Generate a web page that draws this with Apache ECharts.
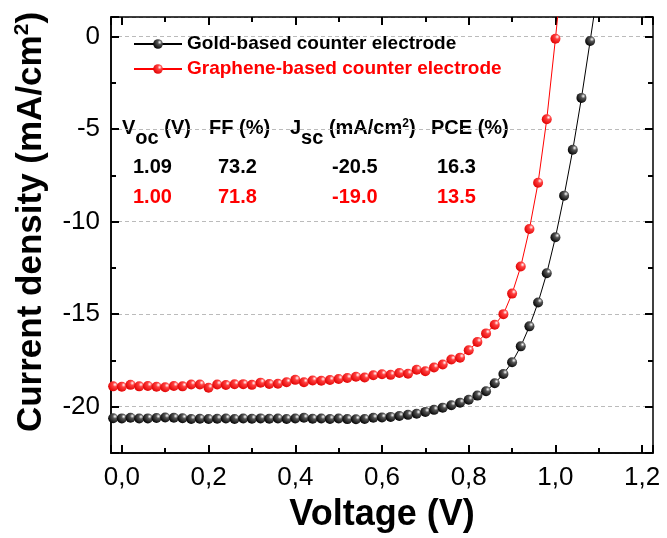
<!DOCTYPE html>
<html>
<head>
<meta charset="utf-8">
<script src="https://cdn.jsdelivr.net/npm/echarts@6/dist/echarts.min.js"></script>
<style>
html, body { margin: 0; padding: 0; background: #fff; }
#main { width: 667px; height: 538px; }
</style>
</head>
<body>
<div id="main"></div>
<script>
// J-V data, voltage in V, current density in mA/cm2
var goldV = [-0.02, 0.00, 0.02, 0.04, 0.06, 0.08, 0.10, 0.12, 0.14, 0.16, 0.18, 0.20, 0.22, 0.24, 0.26, 0.28, 0.30, 0.32, 0.34, 0.36,
  0.38, 0.40, 0.42, 0.44, 0.46, 0.48, 0.50, 0.52, 0.54, 0.56, 0.58, 0.60, 0.62, 0.64, 0.66, 0.68, 0.70, 0.72, 0.74, 0.76,
  0.78, 0.80, 0.82, 0.84, 0.86, 0.88, 0.90, 0.92, 0.94, 0.96, 0.98, 1.00, 1.02, 1.04, 1.06, 1.08, 1.10];
var goldJ = [-20.62, -20.63, -20.60, -20.64, -20.63, -20.61, -20.58, -20.60, -20.62, -20.66, -20.65, -20.66, -20.65, -20.64, -20.66, -20.64, -20.65, -20.63, -20.65, -20.64,
  -20.66, -20.64, -20.60, -20.65, -20.64, -20.66, -20.64, -20.67, -20.68, -20.66, -20.60, -20.58, -20.55, -20.50, -20.44, -20.38, -20.28, -20.17, -20.05, -19.92,
  -19.78, -19.62, -19.40, -19.16, -18.73, -18.23, -17.60, -16.74, -15.66, -14.37, -12.79, -10.85, -8.60, -6.12, -3.32, -0.25, 2.90];

var grapheneV = [-0.02, 0.00, 0.02, 0.04, 0.06, 0.08, 0.10, 0.12, 0.14, 0.16, 0.18, 0.20, 0.22, 0.24, 0.26, 0.28, 0.30, 0.32, 0.34, 0.36,
  0.38, 0.40, 0.42, 0.44, 0.46, 0.48, 0.50, 0.52, 0.54, 0.56, 0.58, 0.60, 0.62, 0.64, 0.66, 0.68, 0.70, 0.72, 0.74, 0.76,
  0.78, 0.80, 0.82, 0.84, 0.86, 0.88, 0.90, 0.92, 0.94, 0.96, 0.98, 1.00, 1.02];
var grapheneJ = [-18.90, -18.92, -18.82, -18.90, -18.88, -18.92, -18.95, -18.88, -18.90, -18.80, -18.80, -18.98, -18.80, -18.83, -18.79, -18.78, -18.82, -18.70, -18.77, -18.76,
  -18.68, -18.55, -18.68, -18.58, -18.60, -18.56, -18.50, -18.45, -18.38, -18.42, -18.30, -18.25, -18.28, -18.18, -18.22, -18.00, -18.08, -17.88, -17.72, -17.45,
  -17.35, -16.95, -16.50, -16.04, -15.57, -15.00, -13.89, -12.43, -10.40, -7.90, -4.47, -0.12, 4.50];

var seriesNames = ['Gold-based counter electrode', 'Graphene-based counter electrode'];
var goldParams = ['1.09', '73.2', '-20.5', '16.3'];
var grapheneParams = ['1.00', '71.8', '-19.0', '13.5'];

var FONT = '"Liberation Sans", Arial, sans-serif';
var RED = '#ff0000';

function pairs(xs, ys) {
  return xs.map(function (x, i) { return [x, ys[i]]; });
}

function ball(base, mid) {
  return {
    type: 'radial', x: 0.68, y: 0.32, r: 0.75,
    colorStops: [
      { offset: 0, color: '#ffffff' },
      { offset: 0.3, color: mid },
      { offset: 1, color: base }
    ]
  };
}

function axisLine() {
  return { show: true, onZero: false, lineStyle: { color: '#000', width: 1.5 } };
}

// tick-only axis: major ticks plus one minor tick between them
function tickAxis(pos, min, max, split) {
  return {
    type: 'value', position: pos, min: min, max: max, splitNumber: split,
    axisLine: axisLine(),
    axisTick: { show: true, inside: true, length: 8, lineStyle: { color: '#000', width: 2 } },
    minorTick: { show: true, splitNumber: 2, length: 5, lineStyle: { color: '#000', width: 2 } },
    axisLabel: { show: false },
    splitLine: { show: false }
  };
}

var xAxes = [
  {
    type: 'value', position: 'bottom', min: -0.025, max: 1.225, splitNumber: 6,
    axisLine: axisLine(),
    axisTick: { show: false },
    axisLabel: {
      margin: 12, fontSize: 26, color: '#000', fontFamily: FONT,
      showMinLabel: false, showMaxLabel: false,
      formatter: function (v) { return v.toFixed(1).replace('.', ','); }
    },
    splitLine: { show: false },
    name: 'Voltage (V)', nameLocation: 'middle', nameGap: 44,
    nameTextStyle: { fontSize: 36, fontWeight: 'bold', color: '#000', fontFamily: FONT }
  },
  tickAxis('bottom', -0.025, 1.225, 6),
  tickAxis('top', -0.025, 1.225, 6)
];

var yAxes = [
  {
    type: 'value', position: 'left', min: -22.5, max: 1.05, splitNumber: 5,
    axisLine: axisLine(),
    axisTick: { show: false },
    axisLabel: {
      margin: 11, fontSize: 26, color: '#000', fontFamily: FONT,
      showMinLabel: false, showMaxLabel: false
    },
    splitLine: { show: true, lineStyle: { color: '#bbbbbb', width: 1, type: [4, 3] } }
  },
  tickAxis('left', -22.5, 1.05, 5),
  tickAxis('right', -22.5, 1.05, 5)
];

var boldText = { fontSize: 20, fontWeight: 'bold', fontFamily: FONT };
function richStyles(color) {
  return {
    m: Object.assign({ fill: color, lineHeight: 20, padding: [0, 0, 10, 0] }, boldText),
    s: Object.assign({ fill: color, lineHeight: 20, padding: [10, 0, 0, 0] }, boldText),
    p: { fill: color, fontSize: 12, fontWeight: 'bold', fontFamily: FONT, lineHeight: 12, padding: [0, 0, 18, 0] }
  };
}

var headTexts = ['{m|V}{s|oc}{m| (V)}', '{m|FF (%)}', '{m|J}{s|sc}{m| (mA/cm}{p|2}{m|)}', '{m|PCE (%)}'];
var headX = [122, 209, 290, 431];
var numX = [133, 218, 332, 437];

var graphics = [];
// y axis title, rotated, with superscript
graphics.push({
  type: 'text', x: 31, y: 222, rotation: Math.PI / 2,
  style: {
    text: '{a|Current density (mA/cm}{b|2}{a|)}',
    align: 'center', verticalAlign: 'middle',
    rich: {
      a: { fill: '#000', fontSize: 35, fontWeight: 'bold', fontFamily: FONT, lineHeight: 38 },
      b: { fill: '#000', fontSize: 21, fontWeight: 'bold', fontFamily: FONT, lineHeight: 21, padding: [0, 0, 17, 0] }
    }
  }
});
headTexts.forEach(function (t, i) {
  graphics.push({
    type: 'text', left: headX[i], top: 118,
    style: { text: t, rich: richStyles('#000') }
  });
});
goldParams.forEach(function (t, i) {
  graphics.push({
    type: 'text', x: numX[i], y: 167,
    style: Object.assign({ text: t, fill: '#000', verticalAlign: 'middle' }, boldText)
  });
});
grapheneParams.forEach(function (t, i) {
  graphics.push({
    type: 'text', x: numX[i], y: 197,
    style: Object.assign({ text: t, fill: RED, verticalAlign: 'middle' }, boldText)
  });
});

var chart = echarts.init(document.getElementById('main'));
chart.setOption({
  animation: false,
  grid: { left: 111, right: 14, top: 17, bottom: 84 },
  legend: {
    orient: 'vertical', left: 133, top: 34, padding: 0,
    itemWidth: 48, itemHeight: 12, itemGap: 5,
    textStyle: { fontSize: 19, fontWeight: 'bold', fontFamily: FONT, lineHeight: 20 },
    data: [
      { name: seriesNames[0], textStyle: { color: '#000' } },
      { name: seriesNames[1], textStyle: { color: RED } }
    ]
  },
  xAxis: xAxes,
  yAxis: yAxes,
  graphic: graphics,
  series: [
    {
      name: seriesNames[0], type: 'line', data: pairs(goldV, goldJ),
      symbol: 'circle', symbolSize: 10, showAllSymbol: true, clip: true,
      lineStyle: { color: '#000', width: 1 },
      itemStyle: { color: ball('#000000', '#555555') }
    },
    {
      name: seriesNames[1], type: 'line', data: pairs(grapheneV, grapheneJ),
      symbol: 'circle', symbolSize: 10, showAllSymbol: true, clip: true,
      lineStyle: { color: RED, width: 1 },
      itemStyle: { color: ball('#e00000', '#ff4040') }
    }
  ]
});
</script>
</body>
</html>
